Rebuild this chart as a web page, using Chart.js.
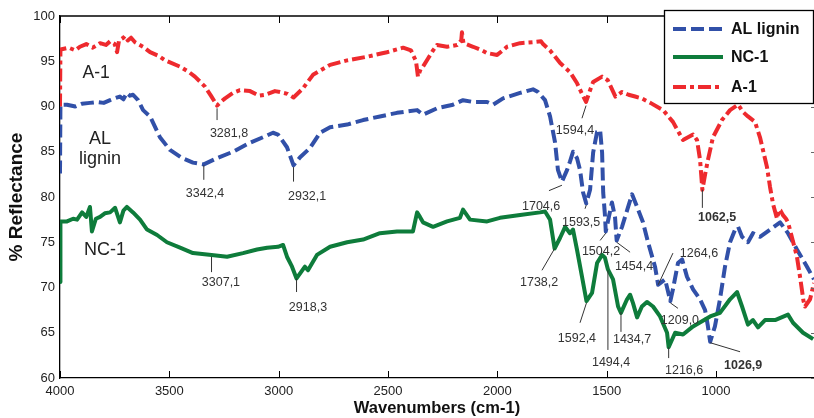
<!DOCTYPE html>
<html>
<head>
<meta charset="utf-8">
<script src="https://cdn.jsdelivr.net/npm/chart.js@4.4.1/dist/chart.umd.min.js"></script>
<style>
  html, body { margin: 0; padding: 0; background: #fff; }
  #wrap { width: 814px; height: 418px; }
</style>
</head>
<body>
<div id="wrap"><canvas id="ftir" width="814" height="418"></canvas></div>
<script>
// FTIR reflectance spectra: [wavenumber (cm-1), % reflectance]
const alLignin = [[4000,82.6],[3998,90.2],[3968,90.2],[3930,90.0],[3900,90.3],[3863,90.4],[3830,90.5],[3800,90.4],[3771,90.7],[3750,90.9],[3726,91.1],[3710,90.8],[3694,91.5],[3680,91.2],[3666,91.3],[3643,90.7],[3620,89.6],[3588,88.9],[3543,86.6],[3497,85.2],[3442,84.3],[3392,83.8],[3342.4,83.6],[3282,84.3],[3209,85.0],[3131,86.0],[3072,86.6],[3026,87.1],[3003,86.9],[2962,85.5],[2932.1,83.5],[2902,84.4],[2857,85.4],[2811,87.1],[2765,87.7],[2687,88.0],[2614,88.5],[2537,88.9],[2459,89.3],[2367,89.6],[2340,89.1],[2276,89.8],[2203,90.2],[2157,90.7],[2111,90.5],[2047,90.5],[2020,90.2],[1974,90.9],[1896,91.5],[1837,91.9],[1814,91.6],[1782,90.7],[1759,88.9],[1736,86.0],[1723,83.0],[1704.6,81.7],[1681,83.0],[1668,83.9],[1654,85.0],[1636,84.3],[1622,83.0],[1608,80.5],[1593.5,79.3],[1576,80.8],[1562,84.9],[1544,87.2],[1530,87.4],[1521,84.9],[1516,80.5],[1508,78.0],[1504.2,76.2],[1490,77.8],[1476,79.4],[1462,77.8],[1454.4,75.2],[1430,76.7],[1402,78.9],[1384,80.3],[1361,78.9],[1334,77.2],[1311,75.0],[1279,72.3],[1264.6,70.3],[1233,70.9],[1209,68.5],[1197,69.8],[1174,72.7],[1155,73.1],[1133,71.2],[1105,69.8],[1073,68.7],[1050,67.5],[1037,65.7],[1026.9,64.0],[1005,65.7],[982,68.7],[959,72.3],[936,75.0],[913,76.4],[899,76.7],[881,75.6],[854,75.0],[831,76.0],[799,75.6],[753,76.4],[707,77.2],[671,76.0],[630,74.2],[584,72.3],[552,70.9]];

const ncOne = [[4000,70.6],[3998,77.3],[3968,77.3],[3940,77.6],[3922,77.5],[3899,78.3],[3880,77.8],[3863,78.9],[3854,76.2],[3836,77.6],[3817,77.8],[3795,78.2],[3771,78.3],[3748,78.8],[3726,77.2],[3710,78.5],[3694,78.9],[3666,78.3],[3634,77.5],[3602,76.4],[3556,75.8],[3511,75.0],[3451,74.4],[3392,73.8],[3307.1,73.6],[3236,73.4],[3163,73.8],[3099,74.2],[3053,74.4],[3003,74.5],[2980,74.7],[2962,73.4],[2939,72.3],[2918.3,71.0],[2889,72.0],[2880,72.3],[2866,71.9],[2825,73.6],[2765,74.5],[2687,75.0],[2614,75.3],[2537,76.0],[2459,76.2],[2386,76.2],[2367,78.3],[2354,77.8],[2340,77.2],[2294,76.7],[2230,77.3],[2171,77.7],[2157,78.6],[2125,77.5],[2047,77.3],[1988,77.7],[1896,78.0],[1805,78.3],[1782,78.4],[1759,77.5],[1738.2,74.3],[1713,75.5],[1690,76.7],[1668,76.0],[1654,76.4],[1636,74.2],[1613,71.2],[1592.4,68.5],[1567,69.4],[1544,72.7],[1521,73.6],[1508,73.3],[1494.4,72.0],[1471,70.9],[1448,67.9],[1434.7,67.2],[1407,68.7],[1393,69.2],[1380,68.3],[1361,66.7],[1339,67.9],[1316,68.4],[1288,67.9],[1256,66.8],[1224,65.0],[1216.6,63.4],[1187,65.0],[1151,64.8],[1105,65.7],[1027,66.8],[982,67.2],[936,68.7],[904,69.5],[881,67.9],[854,65.9],[831,66.4],[808,65.6],[776,66.4],[730,66.4],[671,67.0],[648,66.1],[602,65.0],[556,64.3]];

const aOne = [[4000,90.0],[3998,96.3],[3960,96.5],[3930,96.2],[3909,96.6],[3880,96.9],[3850,96.5],[3817,97.0],[3790,96.8],[3771,97.2],[3750,96.9],[3739,96.0],[3730,97.3],[3710,97.6],[3703,97.8],[3690,97.3],[3675,97.6],[3657,97.1],[3620,96.6],[3588,96.0],[3550,95.6],[3520,95.1],[3451,94.4],[3410,93.8],[3383,93.3],[3337,92.2],[3310,91.2],[3281.8,90.1],[3265,90.5],[3245,90.9],[3209,91.5],[3177,91.8],[3131,91.7],[3090,91.2],[3062,91.3],[3017,91.7],[2994,91.6],[2960,91.4],[2932,91.0],[2889,92.0],[2843,93.5],[2765,94.6],[2687,95.1],[2596,95.5],[2505,96.0],[2431,96.5],[2395,96.2],[2372,95.0],[2363,93.3],[2350,94.2],[2340,94.4],[2317,95.3],[2294,96.2],[2276,96.8],[2230,96.6],[2184,96.8],[2165,97.3],[2162,98.2],[2155,97.0],[2111,96.6],[2070,96.2],[2047,95.9],[2001,95.7],[1970,96.3],[1956,96.6],[1896,97.0],[1837,97.1],[1800,97.2],[1791,96.9],[1759,96.2],[1713,94.8],[1668,93.8],[1636,92.6],[1615,91.5],[1594.4,90.5],[1576,91.8],[1562,92.7],[1521,93.3],[1495,92.9],[1460,91.1],[1430,91.6],[1400,91.3],[1370,91.1],[1340,90.9],[1300,90.4],[1242,89.6],[1197,88.3],[1151,86.3],[1105,86.9],[1087,86.3],[1073,84.1],[1062.5,80.8],[1050,82.5],[1037,84.1],[1014,86.6],[973,88.5],[936,89.6],[899,90.2],[877,89.4],[854,88.9],[822,88.3],[799,86.6],[767,83.3],[753,81.1],[739,79.2],[730,78.4],[721,77.6],[712,78.6],[705,78.5],[694,78.0],[680,77.6],[671,77.2],[662,76.4],[630,73.4],[616,71.2],[600,68.5],[593,67.9],[570,68.7],[552,70.5]];

const seriesNames = ['AL lignin', 'NC-1', 'A-1'];
const xTickValues = [4000, 3500, 3000, 2500, 2000, 1500, 1000];
const yTickValues = [60, 65, 70, 75, 80, 85, 90, 95, 100];

// Peak labels: text, point on the curve, end of leader line, text centre (all in data units)
const peakNotes = [
  { text: '3281,8', at: [3281.8, 89.8], end: [3281.8, 88.5], label: [3227, 87.0] },
  { text: '3342,4', at: [3342.4, 83.5], end: [3342.4, 81.9], label: [3337, 80.4] },
  { text: '2932,1', at: [2932.1, 83.3], end: [2932.1, 81.7], label: [2870, 80.0] },
  { text: '3307,1', at: [3307.1, 73.4], end: [3307.1, 71.7], label: [3264, 70.5] },
  { text: '2918,3', at: [2918.3, 71.0], end: [2918.3, 69.5], label: [2866, 67.8] },
  { text: '1594,4', at: [1594.4, 90.1], end: [1613, 88.7], label: [1645, 87.3] },
  { text: '1704,6', at: [1704.6, 81.3], end: [1764, 80.7], label: [1800, 78.9] },
  { text: '1593,5', at: [1593.5, 79.1], end: [1599, 78.7], label: [1617, 77.2] },
  { text: '1504,2', at: [1504.2, 76.0], end: [1530, 75.2], label: [1526, 74.0] },
  { text: '1454,4', at: [1454.4, 75.0], end: [1393, 73.9], label: [1375, 72.3] },
  { text: '1264,6', at: [1264.6, 70.3], end: [1197, 73.8], label: [1078, 73.8] },
  { text: '1209,0', at: [1209.0, 68.3], end: [1174, 67.7], label: [1165, 66.4] },
  { text: '1062,5', at: [1062.5, 80.8], end: [1062.5, 78.8], label: [995, 77.7], bold: true },
  { text: '1026,9', at: [1026.9, 63.9], end: [890, 62.9], label: [876, 61.4], bold: true },
  { text: '1738,2', at: [1738.2, 74.3], end: [1796, 71.9], label: [1809, 70.6] },
  { text: '1592,4', at: [1592.4, 68.3], end: [1622, 66.1], label: [1636, 64.4] },
  { text: '1494,4', at: [1494.4, 71.9], end: [1494.4, 63.1], label: [1480, 61.7] },
  { text: '1434,7', at: [1434.7, 67.3], end: [1434.7, 65.1], label: [1384, 64.2] },
  { text: '1216,6', at: [1216.6, 63.4], end: [1216.6, 62.2], label: [1146, 60.8] }
];

// Sample names written next to the curves
const curveNames = [
  { text: 'A-1', pos: [3835, 93.7] },
  { text: 'AL', pos: [3817, 86.4] },
  { text: 'lignin', pos: [3817, 84.2] },
  { text: 'NC-1', pos: [3794, 74.1] }
];

const SANS = '"Liberation Sans", Arial, Helvetica, sans-serif';
const toXY = arr => arr.map(p => ({ x: p[0], y: p[1] }));

const frameAndNotes = {
  id: 'frameAndNotes',
  afterDatasetsDraw(chart) {
    const { ctx, scales: { x, y } } = chart;
    const line = (x1, y1, x2, y2) => { ctx.beginPath(); ctx.moveTo(x1, y1); ctx.lineTo(x2, y2); ctx.stroke(); };
    ctx.save();
    // leader lines and peak labels
    ctx.strokeStyle = '#333';
    ctx.lineWidth = 1;
    ctx.fillStyle = '#333';
    ctx.textAlign = 'center';
    ctx.textBaseline = 'middle';
    peakNotes.forEach(n => {
      line(x.getPixelForValue(n.at[0]), y.getPixelForValue(n.at[1]),
           x.getPixelForValue(n.end[0]), y.getPixelForValue(n.end[1]));
      ctx.font = (n.bold ? 'bold ' : '') + '12.5px ' + SANS;
      ctx.fillText(n.text, x.getPixelForValue(n.label[0]), y.getPixelForValue(n.label[1]));
    });
    ctx.fillStyle = '#222';
    curveNames.forEach(c => {
      ctx.font = (c.text === 'A-1' ? '17.5px ' : '18px ') + SANS;
      ctx.fillText(c.text, x.getPixelForValue(c.pos[0]), y.getPixelForValue(c.pos[1]));
    });
    ctx.restore();
  },
  afterDraw(chart) {
    const { ctx, chartArea: a, scales: { x, y } } = chart;
    const line = (x1, y1, x2, y2) => { ctx.beginPath(); ctx.moveTo(x1, y1); ctx.lineTo(x2, y2); ctx.stroke(); };
    ctx.save();
    ctx.strokeStyle = '#000';
    ctx.lineWidth = 1.3;
    line(a.left, a.top, a.right, a.top);
    ctx.lineWidth = 1;
    xTickValues.forEach(v => {
      const px = Math.round(x.getPixelForValue(v)) + 0.5;
      line(px, a.bottom, px, a.bottom - 7);
      line(px, a.top, px, a.top + 7);
    });
    ctx.strokeStyle = '#666';
    yTickValues.forEach(v => {
      const py = Math.round(y.getPixelForValue(v)) + 0.5;
      line(a.right - 3, py, a.right, py);
    });

    // legend box
    const bx = 664, by = 10, bw = 149, bh = 93;
    ctx.fillStyle = '#fff';
    ctx.fillRect(bx, by, bw, bh);
    ctx.strokeStyle = '#000';
    ctx.lineWidth = 1.3;
    ctx.strokeRect(bx + 0.5, by + 0.5, bw, bh);
    const rows = [29, 57, 87];
    ctx.font = 'bold 16px ' + SANS;
    ctx.textAlign = 'left';
    ctx.textBaseline = 'middle';
    chart.data.datasets.forEach((ds, i) => {
      ctx.strokeStyle = ds.borderColor;
      ctx.lineWidth = ds.borderWidth;
      ctx.setLineDash(ds.borderDash || []);
      line(673, rows[i], 723, rows[i]);
      ctx.setLineDash([]);
      ctx.fillStyle = '#111';
      ctx.fillText(ds.label, 731, rows[i] + 1);
    });
    ctx.restore();
  }
};

new Chart(document.getElementById('ftir'), {
  type: 'line',
  data: {
    datasets: [
      { label: seriesNames[0], data: toXY(alLignin), borderColor: '#3150a8', borderWidth: 4, borderDash: [13, 5], order: 2 },
      { label: seriesNames[1], data: toXY(ncOne), borderColor: '#0e7c3b', borderWidth: 4, order: 1 },
      { label: seriesNames[2], data: toXY(aOne), borderColor: '#ee2a2e', borderWidth: 4, borderDash: [13, 4, 4, 4], order: 0 }
    ]
  },
  options: {
    responsive: false,
    devicePixelRatio: 1,
    animation: false,
    layout: { padding: { top: 16, right: 0, left: 0, bottom: 0 } },
    elements: {
      point: { radius: 0 },
      line: { tension: 0, borderJoinStyle: 'round', fill: false }
    },
    plugins: { legend: { display: false }, tooltip: { enabled: false } },
    scales: {
      x: {
        type: 'linear',
        reverse: true,
        min: 552,
        max: 4000,
        afterBuildTicks: axis => { axis.ticks = xTickValues.map(v => ({ value: v })); },
        afterFit: s => { s.height = 40; },
        grid: { display: false, drawTicks: false },
        border: { display: true, color: '#000', width: 1.3 },
        ticks: { padding: 6, color: '#222', font: { family: SANS, size: 13 }, callback: v => String(v), maxRotation: 0, autoSkip: false },
        title: { display: true, text: 'Wavenumbers (cm-1)', color: '#111', font: { family: SANS, size: 16.5, weight: 'bold', lineHeight: 1 }, padding: { top: 0, bottom: 1 } }
      },
      y: {
        min: 60,
        max: 100,
        afterBuildTicks: axis => { axis.ticks = yTickValues.map(v => ({ value: v })); },
        afterFit: s => { s.width = 60; },
        grid: { display: false, drawTicks: false },
        border: { display: true, color: '#000', width: 1.3 },
        ticks: { padding: 5, color: '#222', font: { family: SANS, size: 13 } },
        title: { display: true, text: '% Reflectance', color: '#111', font: { family: SANS, size: 19, weight: 'bold', lineHeight: 1.2 }, padding: { top: 5, bottom: 0 } }
      }
    }
  },
  plugins: [frameAndNotes]
});
</script>
</body>
</html>
